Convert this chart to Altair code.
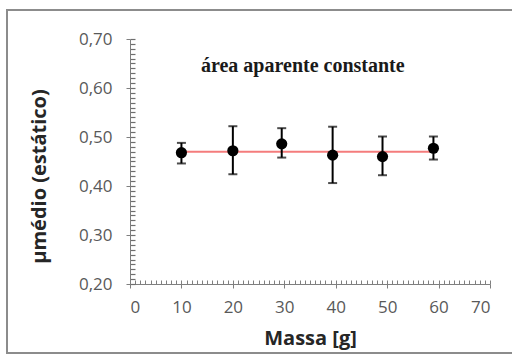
import altair as alt
import pandas as pd

# data
massa = [10, 20, 29.5, 39.4, 49.1, 59]
mu = [0.468, 0.472, 0.486, 0.463, 0.460, 0.477]
mu_lo = [0.446, 0.424, 0.458, 0.406, 0.422, 0.454]
mu_hi = [0.488, 0.522, 0.518, 0.521, 0.501, 0.501]

fit_x = [10, 59]
fit_y = [0.470, 0.470]

x_major = [0, 10, 20, 30, 40, 50, 60, 70]
x_minor = list(range(0, 71))
y_major = [0.2, 0.3, 0.4, 0.5, 0.6, 0.7]
y_minor = [round(0.2 + i * 0.01, 2) for i in range(51)]

annot_text = ["área aparente constante"]
annot_x = [33.6]
annot_y = [0.645]

df = pd.DataFrame({"massa": massa, "mu": mu, "lo": mu_lo, "hi": mu_hi})
fit = pd.DataFrame({"massa": fit_x, "mu": fit_y})
annot = pd.DataFrame({"massa": annot_x, "mu": annot_y, "t": annot_text})

xs = alt.Scale(domain=[0, 70], nice=False, zero=False)
ys = alt.Scale(domain=[0.2, 0.7], nice=False, zero=False)

AX = "#7f7f7f"
LBL = "#595959"
FONT = "Open Sans"
label_expr = "replace(format(datum.value, '.2f'), '.', ',')"

# outer frame
frame = alt.Chart(pd.DataFrame({"k": [0]})).mark_rect(
    fill=None, stroke="#8c8c8c", strokeWidth=2
).encode(
    x=alt.value(-123), x2=alt.value(400), y=alt.value(-29), y2=alt.value(314)
)

# fit line carrying the inside minor ticks
line = alt.Chart(fit).mark_line(color="#f47c7c", strokeWidth=2).encode(
    x=alt.X("massa:Q", scale=xs, axis=alt.Axis(
        orient="bottom", values=x_minor, labels=False, domain=False,
        tickSize=4, offset=-4, tickColor=AX, tickWidth=1, title=None, grid=False)),
    y=alt.Y("mu:Q", scale=ys, axis=alt.Axis(
        orient="left", values=y_minor, labels=False, domain=False,
        tickSize=5, offset=-5, tickColor="#6e6e6e", tickWidth=1.2, title=None, grid=False)),
)

bars = alt.Chart(df).mark_rule(color="black", strokeWidth=2).encode(
    x=alt.X("massa:Q", scale=xs, axis=None),
    y=alt.Y("lo:Q", scale=ys, axis=None),
    y2="hi:Q",
)
cap_lo = alt.Chart(df).mark_tick(color="black", orient="horizontal", size=9, thickness=2).encode(
    x=alt.X("massa:Q", scale=xs, axis=None),
    y=alt.Y("lo:Q", scale=ys, axis=None),
)
cap_hi = alt.Chart(df).mark_tick(color="black", orient="horizontal", size=9, thickness=2).encode(
    x=alt.X("massa:Q", scale=xs, axis=None),
    y=alt.Y("hi:Q", scale=ys, axis=None),
)

points = alt.Chart(df).mark_circle(color="black", opacity=1, size=125).encode(
    x=alt.X("massa:Q", scale=xs, axis=alt.Axis(
        orient="bottom", values=x_major, format="d", tickSize=4, tickColor=AX,
        domainColor=AX, domainWidth=1, grid=False,
        labelFont=FONT, labelFontSize=17, labelColor=LBL, labelPadding=11,
        title="Massa [g]", titleFont=FONT, titleFontSize=20, titleFontWeight="bold",
        titleColor="#262626", titleX=180, titleY=54, titleBaseline="middle")),
    y=alt.Y("mu:Q", scale=ys, axis=alt.Axis(
        orient="left", values=y_major, labelExpr=label_expr, tickSize=4, tickColor=AX,
        domainColor=AX, domainWidth=1, grid=False,
        labelFont=FONT, labelFontSize=17, labelColor=LBL, labelPadding=14,
        title="µmédio (estático)", titleFont=FONT, titleFontSize=20, titleFontWeight="bold",
        titleColor="#262626", titleAngle=-90, titleX=-91, titleY=137,
        titleAlign="center", titleBaseline="middle")),
)

text = alt.Chart(annot).mark_text(
    font="Liberation Serif", fontSize=20, fontWeight="bold", color="#1a1a1a",
    baseline="middle", align="center"
).encode(
    x=alt.X("massa:Q", scale=xs, axis=None),
    y=alt.Y("mu:Q", scale=ys, axis=None),
    text="t:N",
)

chart = alt.layer(frame, line, bars, cap_lo, cap_hi, points, text).resolve_axis(
    x="independent", y="independent"
).properties(
    width=360, height=245,
    autosize=alt.AutoSizeParams(type="none"),
    padding={"left": 130, "top": 39, "right": 22, "bottom": 70},
    background="white",
).configure_view(stroke=None)

chart.save("out.html", embed_options={"renderer": "svg", "actions": False})
